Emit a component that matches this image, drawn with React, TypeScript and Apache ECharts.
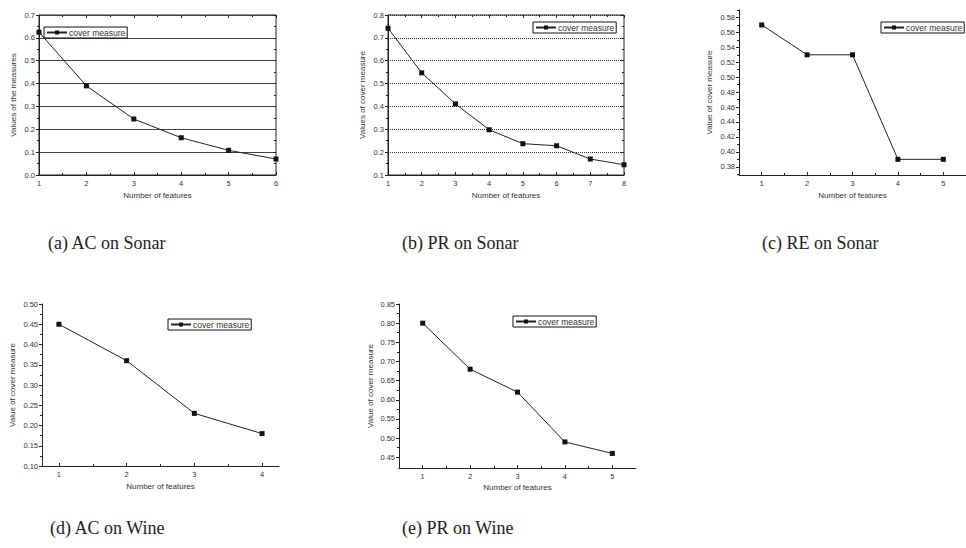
import React, { useEffect, useRef } from "react";
import * as echarts from "echarts";

// ---- data ----
const featuresA = [1, 2, 3, 4, 5, 6];
const acSonar = [0.625, 0.39, 0.245, 0.163, 0.108, 0.07];
const featuresB = [1, 2, 3, 4, 5, 6, 7, 8];
const prSonar = [0.742, 0.547, 0.411, 0.298, 0.237, 0.228, 0.17, 0.145];
const featuresC = [1, 2, 3, 4, 5];
const reSonar = [0.57, 0.53, 0.53, 0.39, 0.39];
const featuresD = [1, 2, 3, 4];
const acWine = [0.45, 0.36, 0.23, 0.18];
const featuresE = [1, 2, 3, 4, 5];
const prWine = [0.8, 0.68, 0.62, 0.49, 0.46];

const yTicksC = [0.38, 0.4, 0.42, 0.44, 0.46, 0.48, 0.5, 0.52, 0.54, 0.56, 0.58];
const yMinorC = [0.37, 0.39, 0.41, 0.43, 0.45, 0.47, 0.49, 0.51, 0.53, 0.55, 0.57, 0.59];
const yTicksE = [0.45, 0.5, 0.55, 0.6, 0.65, 0.7, 0.75, 0.8, 0.85];
const yMinorE = [0.475, 0.525, 0.575, 0.625, 0.675, 0.725, 0.775, 0.825];
const xMinorHalf = [0.5, 1.5, 2.5, 3.5, 4.5, 5.5];

const captions = [
  { text: "(a) AC on Sonar", x: 48, y: 243 },
  { text: "(b) PR on Sonar", x: 402, y: 243 },
  { text: "(c) RE on Sonar", x: 762, y: 243 },
  { text: "(d) AC on Wine", x: 50, y: 528 },
  { text: "(e) PR on Wine", x: 402, y: 528 },
];

const SERIES_NAME = "cover measure";
const FONT = "'Liberation Sans', Arial, sans-serif";
const INK = "#222";
const LABEL = "#333";

export default function App() {
  const ref = useRef<HTMLDivElement>(null);

  useEffect(() => {
    if (!ref.current) return;
    const chart = echarts.init(ref.current, null, { renderer: "svg" });

    const grids = [
      { left: 39, top: 15, width: 237, height: 160, show: true, borderColor: INK, borderWidth: 1 },
      { left: 388, top: 15, width: 236, height: 160, show: true, borderColor: INK, borderWidth: 1 },
      { left: 739, top: 10, width: 236, height: 165 },
      { left: 42, top: 304, width: 237, height: 162 },
      { left: 399, top: 304, width: 237, height: 164 },
    ];

    const lbl = (digits: number) => ({
      color: LABEL,
      fontSize: 7.5,
      fontFamily: FONT,
      margin: 4,
      formatter: (v: number) => v.toFixed(digits),
    });
    const nameStyle = { color: LABEL, fontSize: 8, fontFamily: FONT };
    const line = { show: true, onZero: false, lineStyle: { color: INK, width: 1 } };

    const xBase = (gridIndex: number, min: number, max: number, gap: number) => ({
      type: "value",
      gridIndex,
      position: "bottom",
      min,
      max,
      name: "Number of features",
      nameLocation: "middle",
      nameGap: gap,
      nameTextStyle: nameStyle,
      axisLine: line,
      splitLine: { show: false },
    });

    const yBase = (gridIndex: number, min: number, max: number, name: string, gap: number) => ({
      type: "value",
      gridIndex,
      position: "left",
      min,
      max,
      name,
      nameLocation: "middle",
      nameGap: gap,
      nameRotate: 90,
      nameTextStyle: nameStyle,
      axisLine: line,
    });

    const hidden = (gridIndex: number, min: number, max: number, position: string, extra: any) => ({
      type: "value",
      gridIndex,
      position,
      min,
      max,
      axisLine: { show: false, onZero: false },
      axisLabel: { show: false },
      splitLine: { show: false },
      ...extra,
    });

    const xAxis: any[] = [
      {
        ...xBase(0, 1, 6, 16),
        interval: 1,
        axisTick: { inside: true, length: 3, lineStyle: { color: INK } },
        minorTick: { show: true, splitNumber: 2, length: 2, lineStyle: { color: INK } },
        axisLabel: lbl(0),
      },
      {
        ...xBase(1, 1, 8, 16),
        interval: 1,
        axisTick: { inside: true, length: 3, lineStyle: { color: INK } },
        minorTick: { show: true, splitNumber: 2, length: 2, lineStyle: { color: INK } },
        axisLabel: lbl(0),
      },
      {
        ...xBase(2, 0.5, 5.5, 16),
        axisTick: { inside: true, length: 3, customValues: featuresC, lineStyle: { color: INK } },
        axisLabel: { ...lbl(0), customValues: featuresC },
      },
      {
        ...xBase(3, 0.75, 4.25, 16),
        axisTick: { inside: true, length: 3, customValues: featuresD, lineStyle: { color: INK } },
        axisLabel: { ...lbl(0), customValues: featuresD },
      },
      {
        ...xBase(4, 0.5, 5.5, 15),
        axisTick: { inside: true, length: 3, customValues: featuresE, lineStyle: { color: INK } },
        axisLabel: { ...lbl(0), customValues: featuresE },
      },
      hidden(0, 1, 6, "top", {
        interval: 1,
        axisTick: { inside: true, length: 3, lineStyle: { color: INK } },
        minorTick: { show: true, splitNumber: 2, length: 2, lineStyle: { color: INK } },
      }),
      hidden(1, 1, 8, "top", {
        interval: 1,
        axisTick: { inside: true, length: 3, lineStyle: { color: INK } },
        minorTick: { show: true, splitNumber: 2, length: 2, lineStyle: { color: INK } },
      }),
      hidden(2, 0.5, 5.5, "bottom", {
        axisTick: { inside: true, length: 2, customValues: xMinorHalf.slice(1, 5), lineStyle: { color: INK } },
      }),
      hidden(3, 0.75, 4.25, "bottom", {
        axisTick: { inside: true, length: 2, customValues: xMinorHalf.slice(1, 4), lineStyle: { color: INK } },
      }),
      hidden(4, 0.5, 5.5, "bottom", {
        axisTick: { inside: true, length: 2, customValues: xMinorHalf.slice(1, 5), lineStyle: { color: INK } },
      }),
    ];

    const yAxis: any[] = [
      {
        ...yBase(0, 0, 0.7, "Values of the measures", 22),
        interval: 0.1,
        axisTick: { inside: false, length: 3, lineStyle: { color: INK } },
        minorTick: { show: true, splitNumber: 2, length: 2, lineStyle: { color: INK } },
        axisLabel: lbl(1),
        splitLine: { show: true, lineStyle: { color: "#444", width: 1 } },
      },
      {
        ...yBase(1, 0.1, 0.8, "Values of cover measure", 22),
        interval: 0.1,
        axisTick: { inside: false, length: 3, lineStyle: { color: INK } },
        minorTick: { show: true, splitNumber: 2, length: 2, lineStyle: { color: INK } },
        axisLabel: lbl(1),
        splitLine: { show: true, lineStyle: { color: "#333", width: 1, type: [1, 1] } },
      },
      {
        ...yBase(2, 0.369, 0.59, "Value of cover measure", 26),
        axisTick: { inside: false, length: 3, customValues: yTicksC, lineStyle: { color: INK } },
        axisLabel: { ...lbl(2), customValues: yTicksC },
        splitLine: { show: false },
      },
      {
        ...yBase(3, 0.1, 0.5, "Value of cover measure", 26),
        interval: 0.05,
        axisTick: { inside: false, length: 3, lineStyle: { color: INK } },
        minorTick: { show: true, splitNumber: 2, length: 2, lineStyle: { color: INK } },
        axisLabel: lbl(2),
        splitLine: { show: false },
      },
      {
        ...yBase(4, 0.422, 0.85, "Value of cover measure", 25),
        axisTick: { inside: false, length: 3, customValues: yTicksE, lineStyle: { color: INK } },
        axisLabel: { ...lbl(2), customValues: yTicksE },
        splitLine: { show: false },
      },
      hidden(0, 0, 0.7, "right", {
        interval: 0.1,
        axisTick: { inside: true, length: 3, lineStyle: { color: INK } },
        minorTick: { show: true, splitNumber: 2, length: 2, lineStyle: { color: INK } },
      }),
      hidden(1, 0.1, 0.8, "right", {
        interval: 0.1,
        axisTick: { inside: true, length: 3, lineStyle: { color: INK } },
        minorTick: { show: true, splitNumber: 2, length: 2, lineStyle: { color: INK } },
      }),
      hidden(2, 0.369, 0.59, "left", {
        axisTick: { inside: false, length: 2, customValues: yMinorC, lineStyle: { color: INK } },
      }),
      hidden(4, 0.422, 0.85, "left", {
        axisTick: { inside: false, length: 2, customValues: yMinorE, lineStyle: { color: INK } },
      }),
    ];

    const mk = (xi: number, yi: number, xs: number[], ys: number[]) => ({
      type: "line",
      name: SERIES_NAME,
      xAxisIndex: xi,
      yAxisIndex: yi,
      data: xs.map((x, i) => [x, ys[i]]),
      symbol: "rect",
      symbolSize: 5,
      itemStyle: { color: "#111" },
      lineStyle: { color: INK, width: 1 },
      clip: false,
    });

    const series = [
      mk(0, 0, featuresA, acSonar),
      mk(1, 1, featuresB, prSonar),
      mk(2, 2, featuresC, reSonar),
      mk(3, 3, featuresD, acWine),
      mk(4, 4, featuresE, prWine),
    ];

    const legendPos = [
      { left: 44, top: 27 },
      { left: 533, top: 22 },
      { left: 881, top: 22 },
      { left: 168, top: 319 },
      { left: 513, top: 316 },
    ];
    const legend = legendPos.map((p) => ({
      ...p,
      data: [SERIES_NAME],
      orient: "horizontal",
      itemWidth: 20,
      itemHeight: 5,
      itemGap: 0,
      padding: [1, 2, 1, 2],
      borderColor: "#111",
      borderWidth: 1,
      backgroundColor: "#fff",
      textStyle: { fontSize: 8.5, color: LABEL, fontFamily: FONT, padding: [0, 0, 0, -3] },
      selectedMode: false,
    }));

    const graphic = captions.map((c) => ({
      type: "text",
      x: c.x,
      y: c.y,
      style: {
        text: c.text,
        fontSize: 18,
        fontFamily: "'Liberation Serif', 'DejaVu Serif', serif",
        fill: "#222",
        verticalAlign: "middle",
      },
    }));

    chart.setOption({
      animation: false,
      backgroundColor: "#fff",
      grid: grids,
      xAxis,
      yAxis,
      series,
      legend,
      graphic,
    });

    return () => chart.dispose();
  }, []);

  return (
    <div
      ref={ref}
      style={{ position: "absolute", left: 0, top: 0, width: 966, height: 548 }}
    />
  );
}
